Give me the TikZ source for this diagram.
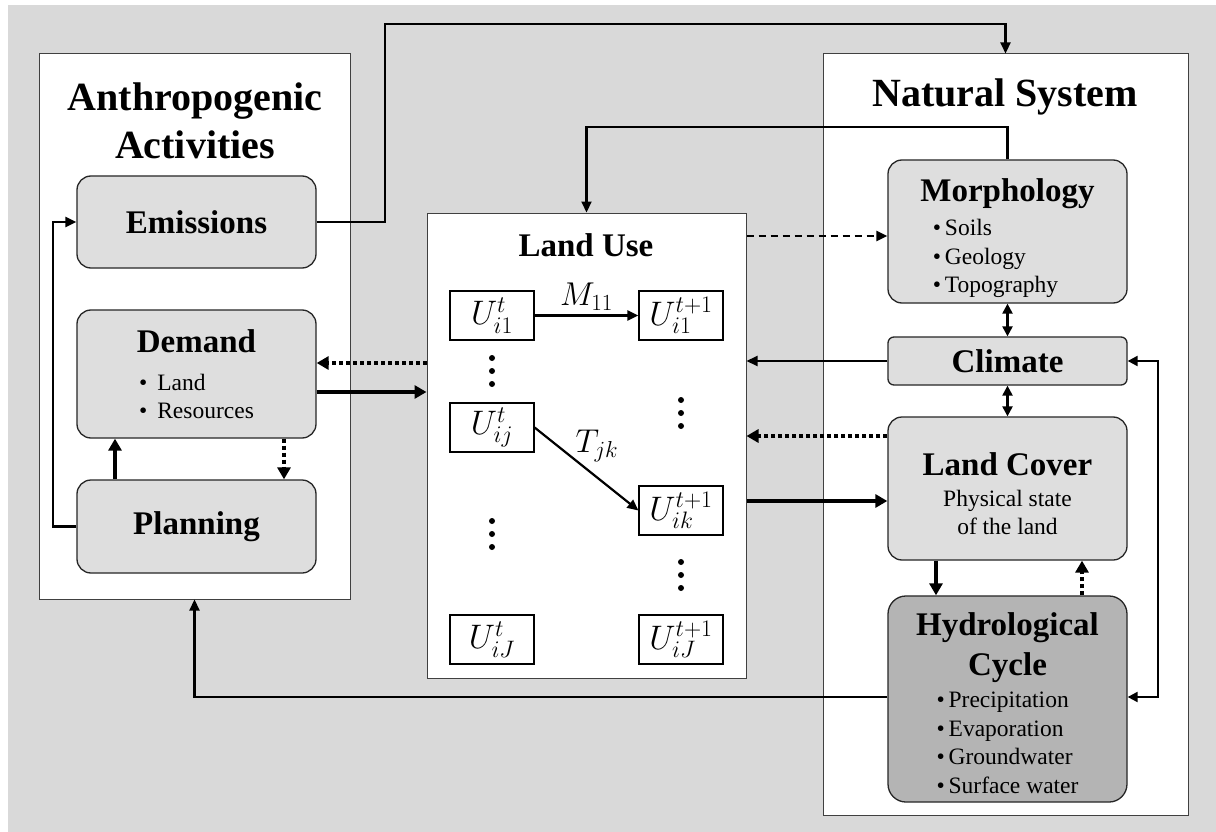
\RequirePackage{fix-cm}
\documentclass[tikz,border=0pt]{standalone}
\usepackage{fontspec}
\setmainfont{Liberation Serif}
\usepackage{xcolor}
\usepackage{tikz}
\usetikzlibrary{positioning, arrows.meta, calc}
\definecolor{backgray}{RGB}{217,217,217}
\definecolor{boxgray}{RGB}{222,222,222}
\definecolor{hydrogray}{RGB}{180,180,180}
\newcommand{\paneltitle}{\fontsize{40}{48}\selectfont\bfseries}
\newcommand{\boxtitle}{\fontsize{33}{40}\selectfont\bfseries}
\newcommand{\itemfont}{\normalfont\fontsize{23.5}{28.5}\selectfont}

\begin{document}
\begin{tikzpicture}[x=1pt, y=-1pt,
  panel/.style={rectangle, draw=black!75, line width=1pt, fill=white},
  box/.style={rectangle, rounded corners=14pt, draw=black!85, line width=1.3pt,
    fill=boxgray, minimum width=239pt, align=center, inner sep=0pt,
    font=\boxtitle},
  hydrobox/.style={box, fill=hydrogray, rounded corners=18pt},
  ubox/.style={rectangle, draw=black, line width=1.2pt, fill=white,
    minimum width=84pt, minimum height=49pt, inner sep=0pt,
    font=\fontsize{34}{40}\selectfont},
  link/.style={line width=2.2pt, -{Triangle[length=11pt,width=10pt]}},
  linkboth/.style={line width=2.2pt,
    {Triangle[length=10pt,width=10pt]}-{Triangle[length=10pt,width=10pt]}},
  strong/.style={line width=4.5pt, -{Triangle[length=12pt,width=13pt]}},
  weak/.style={line width=4.5pt, dash pattern=on 4pt off 3pt,
    -{Triangle[length=12pt,width=13pt]}},
  maybe/.style={line width=2.2pt, dash pattern=on 7pt off 5pt,
    -{Triangle[length=11pt,width=10pt]}}
]
  \useasboundingbox (0,0) rectangle (1216,832);
  \fill[white] (0,0) rectangle (1216,832);
  \fill[backgray] (8,5) rectangle (1216,832);

  % panels
  \node[panel, minimum width=311pt, minimum height=545pt] (anthro) at (194.5,326.5) {};
  \node[panel, minimum width=319pt, minimum height=465pt] (landuse) at (586.5,445.5) {};
  \node[panel, minimum width=365pt, minimum height=761pt] (natural) at (1005.5,434.5) {};

  \node[font=\paneltitle, align=center] (anthrotitle) at (195,121) {Anthropogenic\\Activities};
  \node[font=\paneltitle] (naturaltitle) at (1005,97) {Natural System};
  \node[font=\boxtitle] (landusetitle) at (586,245) {Land Use};

  % anthropogenic activities
  \node[box, minimum height=92pt] (emissions) at (196.5,222) {Emissions};
  \node[box, minimum height=128pt] (demand) at (196.5,374)
    {\rule{0pt}{32pt}Demand\\[-2pt]{\itemfont\begin{tabular}[t]{@{}l@{}}\textbullet\hspace{10pt}Land\\
      \textbullet\hspace{10pt}Resources\end{tabular}}};
  \node[box, minimum height=93pt] (planning) at (196.5,526.5) {Planning};

  % natural system
  \node[box, minimum height=143pt] (morph) at (1007.5,231.5)
    {\rule{0pt}{40pt}Morphology\\[-6pt]{\itemfont\begin{tabular}[t]{@{}l@{}}\textbullet\,Soils\\
      \textbullet\,Geology\\ \textbullet\,Topography\end{tabular}\hspace*{24pt}}};
  \node[box, minimum height=48pt, rounded corners=6pt] (climate) at (1007.5,361) {Climate};
  \node[box, minimum height=143pt] (landcover) at (1007.5,488.5)
    {\rule{0pt}{42pt}Land Cover\\[-9pt]{\itemfont\begin{tabular}[t]{@{}c@{}}Physical state\\
      of the land\end{tabular}}};
  \node[hydrobox, minimum height=204pt] (hydro) at (1007.5,699)
    {\rule{0pt}{40pt}Hydrological\\Cycle\\[-8pt]{\itemfont\begin{tabular}[t]{@{}l@{}}\textbullet\,Precipitation\\
      \textbullet\,Evaporation\\ \textbullet\,Groundwater\\ \textbullet\,Surface water\end{tabular}}};

  % land use states
  \node[ubox] (ui1) at (492,315.5) {$U^{t}_{i1}$};
  \node[ubox] (uij) at (492,427.5) {$U^{t}_{ij}$};
  \node[ubox] (uiJ) at (492,639.5) {$U^{t}_{iJ}$};
  \node[ubox] (vi1) at (681,315.5) {$U^{t+1}_{i1}$};
  \node[ubox] (vik) at (681,510.5) {$U^{t+1}_{ik}$};
  \node[ubox] (viJ) at (681,639.5) {$U^{t+1}_{iJ}$};

  \foreach \x/\y in {492/371, 492/534, 681/413, 681/575}
    \foreach \d in {-13,0,13}
      \fill (\x,\y+\d) circle (3pt);

  \draw[link] (ui1) -- (vi1)
    node[midway, above, inner sep=4pt, font=\fontsize{33}{38}\selectfont] (mlabel) {$M_{11}$};
  \draw[link] (uij.east) -- (vik.west)
    node[midway, above right, inner sep=2pt, xshift=-14pt, yshift=4pt,
      font=\fontsize{33}{38}\selectfont] (tlabel) {$T_{jk}$};

  % connectors
  \draw[link] (planning.west) -- ++(-23,0) |- (emissions.west);
  \draw[strong] (planning.north -| 115,0) -- (demand.south -| 115,0);
  \draw[weak] (demand.south -| 284,0) -- (planning.north -| 284,0);
  \coordinate (topbend) at (385,24);
  \draw[link] (emissions.east) -| (topbend) -| (natural.north);
  \draw[link] (morph.north) -- ++(0,-32) -| (landuse.north);
  \draw[weak] (landuse.west |- 0,363) -- (demand.east |- 0,363);
  \draw[strong] (demand.east |- 0,392) -- (landuse.west |- 0,392);
  \draw[maybe] (landuse.east |- 0,236) -- (morph.west |- 0,236);
  \draw[link] (climate.west) -- (climate.west -| landuse.east);
  \draw[weak] (landcover.west |- 0,436) -- (landuse.east |- 0,436);
  \draw[strong] (landuse.east |- 0,501) -- (landcover.west |- 0,501);
  \draw[linkboth] (morph.south) -- (climate.north);
  \draw[linkboth] (climate.south) -- (landcover.north);
  \draw[strong] (landcover.south -| 936,0) -- (hydro.north -| 936,0);
  \draw[weak] (hydro.north -| 1082,0) -- (landcover.south -| 1082,0);
  \draw[linkboth] (climate.east) -- ++(30,0) |- (hydro.east |- 0,697);
  \draw[link] (hydro.west |- 0,697) -| (anthro.south);
\end{tikzpicture}
\end{document}
